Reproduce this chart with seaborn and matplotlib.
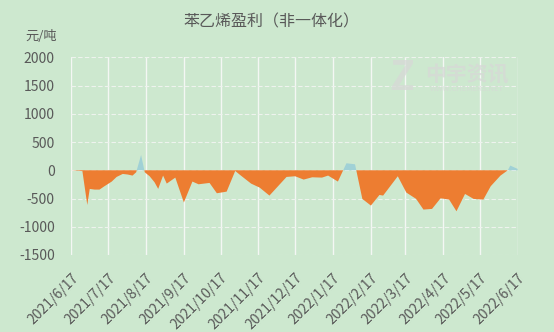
import numpy as np
import pandas as pd
import matplotlib
matplotlib.use("Agg")
import matplotlib.pyplot as plt
import seaborn as sns

# ---- data ----
dates = ["2021-06-17", "2021-06-26", "2021-06-30", "2021-07-02", "2021-07-06", "2021-07-10",
         "2021-07-14", "2021-07-20", "2021-07-24", "2021-07-29", "2021-08-02", "2021-08-06",
         "2021-08-09", "2021-08-13", "2021-08-16", "2021-08-20", "2021-08-24", "2021-08-27",
         "2021-08-31", "2021-09-03", "2021-09-10", "2021-09-17", "2021-09-24", "2021-09-29",
         "2021-10-08", "2021-10-14", "2021-10-22", "2021-10-29", "2021-11-02", "2021-11-11",
         "2021-11-18", "2021-11-26", "2021-12-03", "2021-12-10", "2021-12-17", "2021-12-24",
         "2021-12-31", "2022-01-08", "2022-01-13", "2022-01-21", "2022-01-28", "2022-02-04",
         "2022-02-10", "2022-02-17", "2022-02-24", "2022-02-27", "2022-03-11", "2022-03-18",
         "2022-03-26", "2022-04-01", "2022-04-08", "2022-04-15", "2022-04-22", "2022-04-28",
         "2022-05-05", "2022-05-12", "2022-05-20", "2022-05-26", "2022-06-03", "2022-06-09",
         "2022-06-11", "2022-06-17"]
profit = [0, -15, -614, -330, -342, -342,
          -283, -200, -118, -65, -75, -94,
          -35, 271, -35, -106, -212, -330,
          -94, -236, -130, -570, -200, -248,
          -224, -407, -378, -12, -83, -236,
          -307, -448, -283, -118, -106, -165,
          -124, -130, -94, -200, 124, 106,
          -507, -625, -437, -448, -106, -395,
          -507, -696, -684, -496, -519, -726,
          -419, -507, -519, -283, -94, 0,
          83, 24]

tick_dates = ["2021-06-17", "2021-07-17", "2021-08-17", "2021-09-17", "2021-10-17",
              "2021-11-17", "2021-12-17", "2022-01-17", "2022-02-17", "2022-03-17",
              "2022-04-17", "2022-05-17", "2022-06-17"]
tick_labels = ["2021/6/17", "2021/7/17", "2021/8/17", "2021/9/17", "2021/10/17",
               "2021/11/17", "2021/12/17", "2022/1/17", "2022/2/17", "2022/3/17",
               "2022/4/17", "2022/5/17", "2022/6/17"]
y_ticks = [-1500, -1000, -500, 0, 500, 1000, 1500, 2000]

title = "苯乙烯盈利（非一体化）"
unit = "元/吨"

# ---- style ----
BG = "#cde8cf"
ORANGE = "#ed7d31"
BLUE = "#a0d1d6"
TXT = "#595959"

sns.set_theme(style="white", rc={"figure.facecolor": BG, "axes.facecolor": BG})
plt.rcParams["font.family"] = ["Noto Sans CJK SC", "DejaVu Sans"]

df = pd.DataFrame({"date": pd.to_datetime(dates), "profit": profit})

fig = plt.figure(figsize=(5.54, 3.32), dpi=100)
ax = fig.add_axes([71.4 / 554, 1 - 255 / 332, (517.6 - 71.4) / 554, (255 - 57.3) / 332])
ax.set_facecolor(BG)

sns.lineplot(data=df, x="date", y="profit", ax=ax, color=ORANGE, linewidth=0)
x = df["date"].values
y = df["profit"].values.astype(float)
ax.fill_between(x, y, 0, where=y <= 0, interpolate=True, color=ORANGE, linewidth=0, zorder=3)
ax.fill_between(x, y, 0, where=y >= 0, interpolate=True, color=BLUE, linewidth=0, zorder=3)

ax.set_xlim(pd.Timestamp(tick_dates[0]), pd.Timestamp(tick_dates[-1]))
ax.set_ylim(-1500, 2000)
ax.set_xticks(pd.to_datetime(tick_dates))
ax.set_xticklabels(tick_labels, rotation=45, ha="right", rotation_mode="anchor",
                   fontsize=10, color=TXT)
ax.set_yticks(y_ticks)
ax.set_yticklabels([str(v) for v in y_ticks], fontsize=10, color=TXT)
ax.tick_params(axis="both", length=0)
ax.tick_params(axis="x", pad=11.5)
ax.tick_params(axis="y", pad=12)
ax.set_xlabel("")
ax.set_ylabel("")
for s in ax.spines.values():
    s.set_visible(False)

ax.xaxis.grid(True, color="#f4f7f4", linewidth=1.0, linestyle="-", zorder=1)
ax.yaxis.grid(True, color="#eef3ee", linewidth=0.8, linestyle=(0, (4, 2)), zorder=1)
ax.set_axisbelow(True)

# watermark
fig.text(402 / 554, 1 - 79 / 332, "Z", fontsize=29, fontweight="bold", color="#d6d9d6",
         ha="center", va="center", alpha=0.8)
fig.text(467 / 554, 1 - 75 / 332, "中宇资讯", fontsize=15, fontweight="bold", color="#d6d9d6",
         ha="center", va="center", alpha=0.8)
fig.text(467 / 554, 1 - 89 / 332, "WWW.CHEMERS.NET", fontsize=5.5, color="#d6d9d6",
         ha="center", va="center", alpha=0.8)

fig.text(271 / 554, 1 - 22 / 332, title, fontsize=11.5, color=TXT, ha="center", va="center")
fig.text(41 / 554, 1 - 37 / 332, unit, fontsize=9.5, color=TXT, ha="center", va="center")

fig.savefig("out.png", dpi=100, facecolor=BG)
